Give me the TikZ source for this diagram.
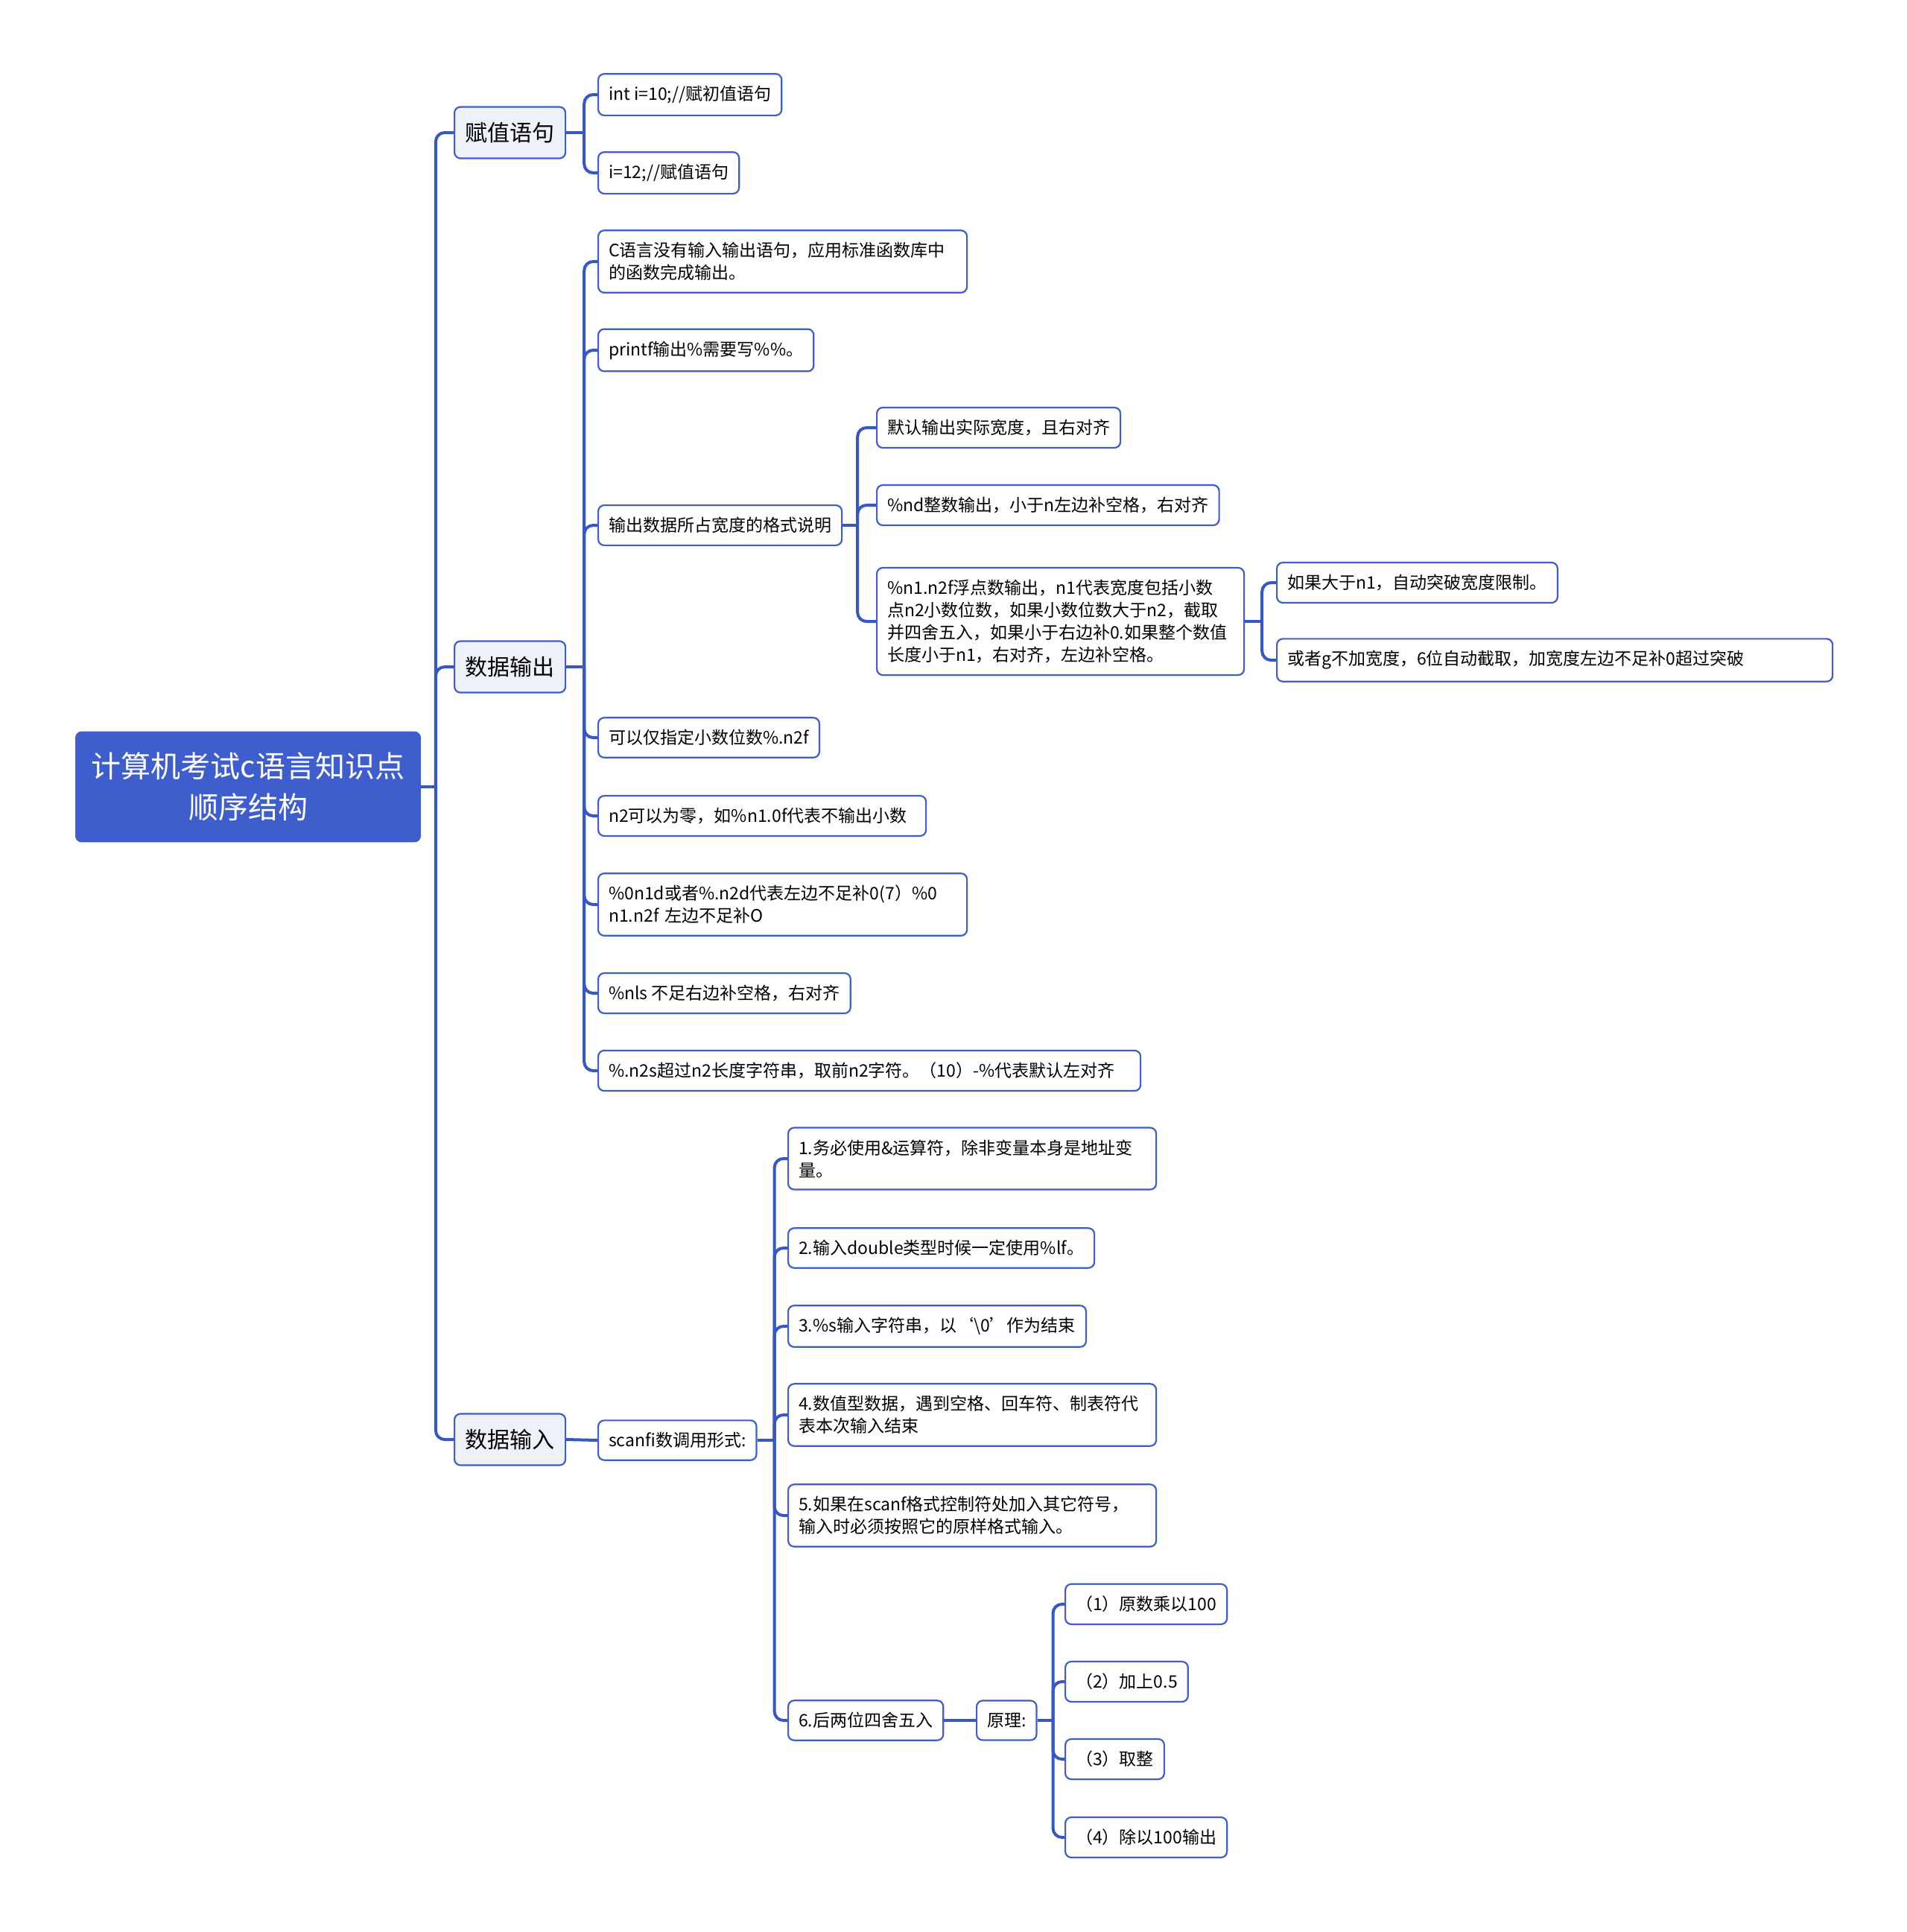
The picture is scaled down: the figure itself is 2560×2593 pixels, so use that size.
\documentclass[tikz,border=0pt]{standalone}
\usepackage{fontspec}
\setmainfont{Noto Sans CJK SC}
\usepackage{tikz}
\usetikzlibrary{backgrounds}
\definecolor{mmblue}{RGB}{62,94,206}
\definecolor{mmline}{RGB}{55,88,196}
\definecolor{mmgray}{RGB}{238,241,247}
\newcommand{\leaffont}{\fontsize{11.5}{15}\selectfont}
\newcommand{\topicfont}{\fontsize{15}{19}\selectfont}
\newcommand{\rootfont}{\fontsize{20}{27.5}\selectfont}
\tikzset{
    common/.style={anchor=west, draw=mmblue, line width=1.1pt, rounded corners=4pt, align=left},
    leaf/.style={common, fill=white, font=\leaffont, inner xsep=7pt, inner ysep=8pt, minimum height=26.5pt},
    wide/.style={text width=#1},
    topic/.style={common, fill=mmgray, font=\topicfont, inner xsep=7pt, minimum height=34.5pt, minimum width=74.5pt},
    rootnode/.style={draw=mmblue, fill=mmblue, text=white, rounded corners=4pt, font=\rootfont, align=center, minimum width=231.5pt, minimum height=74pt},
    link/.style={draw=mmline, line width=2pt, rounded corners=6pt}
}

\begin{document}
\begin{tikzpicture}[x=0.5pt, y=-0.5pt]
        \useasboundingbox (0,0) rectangle (2560,2593);

        \node[rootnode] (root) at (333,1056) {计算机考试c语言知识点\\顺序结构};

        \node[topic] (fz) at (609,178) {赋值语句};
        \node[topic] (sc) at (609,895) {数据输出};
        \node[topic] (sr) at (609,1932) {数据输入};

        \node[leaf] (fz1) at (802,127) {int i=10;//赋初值语句};
        \node[leaf] (fz2) at (802,232) {i=12;//赋值语句};

        \node[leaf, wide=233.5pt] (sc1) at (802,351) {C语言没有输入输出语句，应用标准函数库中\\的函数完成输出。};
        \node[leaf] (sc2) at (802,470) {printf输出\%需要写\%\%。};
        \node[leaf] (sc3) at (802,705) {输出数据所占宽度的格式说明};
        \node[leaf] (sc4) at (802,990) {可以仅指定小数位数\%.n2f};
        \node[leaf, wide=206pt] (sc5) at (802,1095) {n2可以为零，如\%n1.0f代表不输出小数};
        \node[leaf, wide=233.5pt] (sc6) at (802,1214) {\%0n1d或者\%.n2d代表左边不足补0(7）\%0\\n1.n2f 左边不足补O};
        \node[leaf] (sc7) at (802,1333) {\%nls 不足右边补空格，右对齐};
        \node[leaf, wide=350pt] (sc8) at (802,1437) {\%.n2s超过n2长度字符串，取前n2字符。（10）-\%代表默认左对齐};

        \node[leaf] (w1) at (1176,574) {默认输出实际宽度，且右对齐};
        \node[leaf] (w2) at (1176,678) {\%nd整数输出，小于n左边补空格，右对齐};
        \node[leaf, wide=232.5pt] (w3) at (1176,834) {\%n1.n2f浮点数输出，n1代表宽度包括小数\\点n2小数位数，如果小数位数大于n2，截取\\并四舍五入，如果小于右边补0.如果整个数值\\长度小于n1，右对齐，左边补空格。};

        \node[leaf] (g1) at (1713,782) {如果大于n1，自动突破宽度限制。};
        \node[leaf, wide=359pt] (g2) at (1713,886) {或者g不加宽度，6位自动截取，加宽度左边不足补0超过突破};

        \node[leaf] (scanf) at (802,1933) {scanfi数调用形式:};

        \node[leaf, wide=233pt] (in1) at (1057,1555) {1.务必使用\&运算符，除非变量本身是地址变\\量。};
        \node[leaf] (in2) at (1057,1675) {2.输入double类型时候一定使用\%lf。};
        \node[leaf] (in3) at (1057,1780) {3.\%s输入字符串，以‘\textbackslash 0’作为结束};
        \node[leaf, wide=233pt] (in4) at (1057,1899) {4.数值型数据，遇到空格、回车符、制表符代\\表本次输入结束};
        \node[leaf, wide=233pt] (in5) at (1057,2034) {5.如果在scanf格式控制符处加入其它符号，\\输入时必须按照它的原样格式输入。};
        \node[leaf] (in6) at (1057,2309) {6.后两位四舍五入};

        \node[leaf] (yl) at (1310,2309) {原理:};

        \node[leaf] (p1) at (1429,2153) {（1）原数乘以100};
        \node[leaf] (p2) at (1429,2257) {（2）加上0.5};
        \node[leaf] (p3) at (1429,2361) {（3）取整};
        \node[leaf] (p4) at (1429,2466) {（4）除以100输出};

        \begin{scope}[on background layer]
        \draw[link] (root.east) -- ++(20,0) coordinate (rootb);
        \foreach \c in {fz,sc,sr} \draw[link] (rootb) |- (\c.west);

        \draw[link] (fz.east) -- ++(24,0) coordinate (fzb);
        \foreach \c in {fz1,fz2} \draw[link] (fzb) |- (\c.west);

        \draw[link] (sc.east) -- ++(24,0) coordinate (scb);
        \foreach \c in {sc1,sc2,sc3,sc4,sc5,sc6,sc7,sc8} \draw[link] (scb) |- (\c.west);

        \draw[link] (sc3.east) -- ++(20,0) coordinate (wb);
        \foreach \c in {w1,w2,w3} \draw[link] (wb) |- (\c.west);

        \draw[link] (w3.east) -- ++(23,0) coordinate (gb);
        \foreach \c in {g1,g2} \draw[link] (gb) |- (\c.west);

        \draw[link] (sr.east) -- (scanf.west);
        \draw[link] (scanf.east) -- ++(23,0) coordinate (inb);
        \foreach \c in {in1,in2,in3,in4,in5,in6} \draw[link] (inb) |- (\c.west);

        \draw[link] (in6.east) -- (yl.west);
        \draw[link] (yl.east) -- ++(21,0) coordinate (pb);
        \foreach \c in {p1,p2,p3,p4} \draw[link] (pb) |- (\c.west);
        \end{scope}
    \end{tikzpicture}
\end{document}
